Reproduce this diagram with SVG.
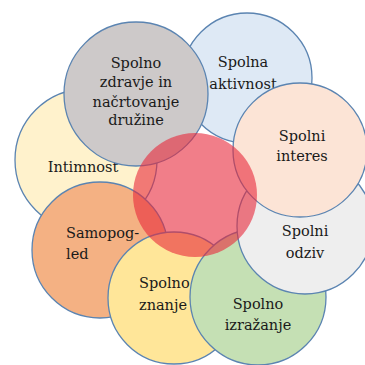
<svg xmlns="http://www.w3.org/2000/svg" width="365" height="365" viewBox="0 0 365 365">
<style>
.c{stroke:#5b84b1;stroke-width:1.3}
text{font-family:"DejaVu Serif","Liberation Serif",serif;font-size:14.5px;fill:#1a1a1a;text-anchor:middle}
.l{text-anchor:start}
</style>
<rect width="365" height="365" fill="#fff"/>
<g id="intimnost"><circle class="c" cx="86" cy="160" r="71" fill="#fff2cc"/><text x="83" y="172">Intimnost</text></g>
<g id="samopogled"><circle class="c" cx="100" cy="250" r="68" fill="#f4b183"/><text class="l" x="66" y="238">Samopog-</text><text class="l" x="66" y="259">led</text></g>
<g id="znanje"><circle class="c" cx="174" cy="298" r="66" fill="#ffe699"/><text class="l" x="139" y="288">Spolno</text><text class="l" x="139" y="310">znanje</text></g>
<g id="izrazanje"><circle class="c" cx="258" cy="297" r="68" fill="#c5e0b4"/><text x="258" y="309">Spolno</text><text x="258" y="330">izražanje</text></g>
<g id="aktivnost"><circle class="c" cx="247" cy="78" r="65" fill="#dee9f5"/><text x="243" y="67">Spolna</text><text x="243" y="89">aktivnost</text></g>
<g id="odziv"><circle class="c" cx="305" cy="226" r="68" fill="#eeeeee"/><text x="305" y="236">Spolni</text><text x="305" y="258">odziv</text></g>
<g id="interes"><circle class="c" cx="300" cy="150" r="67" fill="#fce4d6"/><text x="302" y="141">Spolni</text><text x="302" y="161">interes</text></g>
<g id="zdravje"><circle class="c" cx="136" cy="94" r="72" fill="#cdc9c9"/><text x="136" y="68">Spolno</text><text x="136" y="87">zdravje in</text><text x="136" y="107">načrtovanje</text><text x="136" y="125">družine</text></g>
<g id="center"><circle cx="195" cy="195" r="62" fill="#e8283a" fill-opacity="0.6"/></g>
<g id="connectors"/>
</svg>
